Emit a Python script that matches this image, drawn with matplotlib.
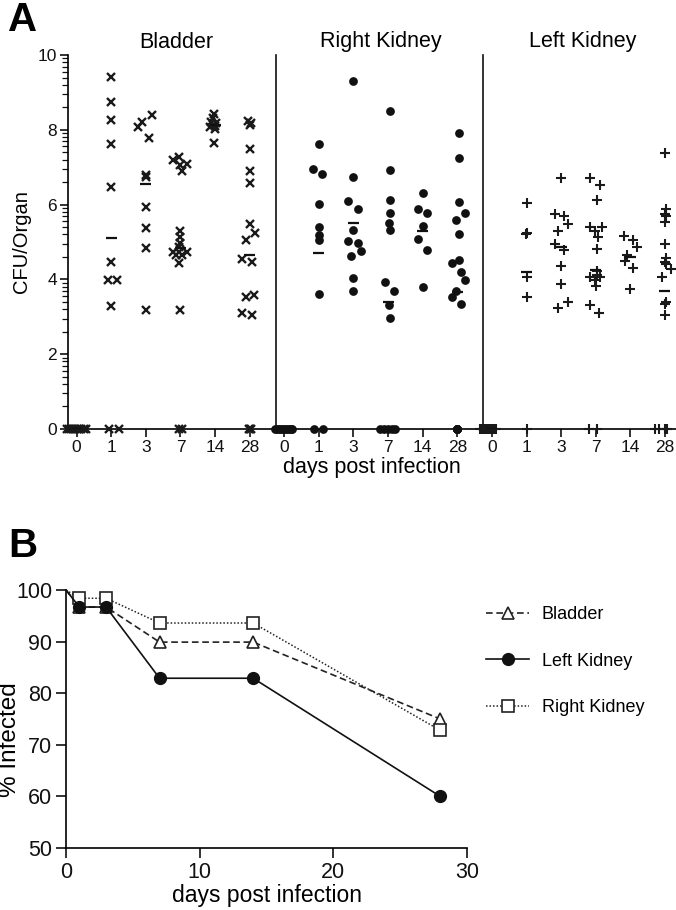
import numpy as np
import matplotlib
matplotlib.use('Agg')
import matplotlib.pyplot as plt
from matplotlib.lines import Line2D
from matplotlib import font_manager

avail = {f.name for f in font_manager.fontManager.ttflist}
base_font = 'Liberation Sans' if 'Liberation Sans' in avail else 'DejaVu Sans'
plt.rcParams['font.family'] = [base_font, 'DejaVu Sans']

# ---------------- Panel A data (log10 CFU / organ) ----------------
day_labels = ['0', '1', '3', '7', '14', '28']
organs = ['Bladder', 'Right Kidney', 'Left Kidney']

bladder_d0 = [0, 0, 0, 0, 0, 0, 0, 0, 0, 0]
bladder_d1 = [9.42, 8.75, 8.26, 7.61, 6.48, 4.46, 3.98, 3.98, 3.30, 0, 0]
bladder_d3 = [8.40, 8.22, 8.08, 7.77, 6.79, 6.73, 5.94, 5.38, 4.83, 3.18]
bladder_d7 = [7.26, 7.19, 7.09, 7.06, 6.90, 5.29, 5.14, 4.96, 4.87, 4.74, 4.74,
              4.72, 4.65, 4.65, 4.43, 3.18, 0, 0]
bladder_d14 = [8.42, 8.31, 8.22, 8.17, 8.10, 8.08, 8.01, 7.66]
bladder_d28 = [8.24, 8.19, 8.13, 7.50, 6.91, 6.57, 5.48, 5.23, 5.05, 4.54, 4.47,
               3.58, 3.54, 3.09, 3.05, 0, 0, 0]
bladder_means = [0, 5.12, 6.54, 4.83, 8.14, 4.64]

rkidney_d0 = [0, 0, 0, 0, 0, 0, 0, 0, 0, 0]
rkidney_d1 = [7.61, 6.95, 6.81, 6.02, 5.41, 5.19, 5.05, 3.60, 0, 0]
rkidney_d3 = [9.31, 6.75, 6.10, 5.87, 5.32, 5.03, 4.96, 4.76, 4.63, 4.03, 3.70]
rkidney_d7 = [8.50, 6.93, 6.12, 5.78, 5.52, 5.32, 3.93, 3.70, 3.32, 2.96, 0, 0, 0, 0, 0]
rkidney_d14 = [6.30, 5.87, 5.77, 5.43, 5.07, 4.79, 3.81]
rkidney_d28 = [7.91, 7.24, 6.06, 5.77, 5.59, 5.21, 4.52, 4.45, 4.19, 3.98, 3.70,
               3.52, 3.34, 0, 0, 0, 0, 0]
rkidney_means = [0, 4.71, 5.50, 3.39, 5.29, 3.65]

lkidney_d0 = [0, 0, 0, 0, 0, 0, 0, 0, 0, 0]
lkidney_d1 = [6.03, 5.25, 5.21, 4.06, 3.54, 0]
lkidney_d3 = [6.72, 5.75, 5.70, 5.48, 5.30, 4.95, 4.79, 4.37, 3.88, 3.39, 3.24]
lkidney_d7 = [6.70, 6.52, 6.12, 5.39, 5.39, 5.30, 5.14, 4.80, 4.23, 4.12, 4.07,
              4.07, 3.98, 3.82, 3.32, 3.09, 0, 0]
lkidney_d14 = [5.17, 5.05, 4.86, 4.65, 4.50, 4.30, 3.74]
lkidney_d28 = [7.39, 5.88, 5.75, 5.70, 5.54, 4.95, 4.56, 4.47, 4.41, 4.27, 4.06,
               3.40, 3.34, 3.05, 0, 0, 0, 0]
lkidney_means = [0, 4.19, 4.86, 4.25, 4.59, 3.70]

# horizontal scatter offsets (layout only)
bladder_jit = [
    [-0.28, -0.22, -0.16, -0.10, -0.04, 0.02, 0.08, 0.14, 0.20, 0.26],
    [0, 0, 0, 0, 0, 0, -0.09, 0.18, 0, -0.07, 0.23],
    [0.17, -0.12, -0.22, 0.08, 0, 0, 0, 0, 0, 0],
    [-0.04, -0.22, 0.20, 0.0, 0.03, 0, 0, 0, -0.03, -0.22, 0.19, -0.05, -0.14, 0.05, -0.05, 0, -0.04, 0.04],
    [-0.03, -0.06, -0.11, 0.04, -0.01, -0.16, 0.01, -0.03],
    [-0.04, 0.03, 0, 0, 0, 0, 0, 0.15, -0.12, -0.22, 0.07, 0.13, -0.12, -0.22, 0.07, -0.03, 0, 0.03],
]
rkidney_jit = [
    [-0.28, -0.22, -0.16, -0.10, -0.04, 0.02, 0.08, 0.14, 0.19, 0.23],
    [0, -0.18, 0.09, 0, 0, 0, 0, 0, -0.14, 0.12],
    [0, 0, -0.15, 0.12, 0, -0.15, 0.12, 0.21, -0.06, 0, 0],
    [0.05, 0.05, 0.05, 0.05, 0.03, 0.05, -0.10, 0.16, 0.03, 0.05, -0.24, -0.12, 0, 0.1, 0.2],
    [0.02, -0.14, 0.13, 0.02, -0.14, 0.13, 0.02],
    [0.04, 0.04, 0.04, 0.21, -0.05, 0.04, 0.05, -0.14, 0.12, 0.21, -0.05, -0.14, 0.12, 0, 0, 0, 0, 0],
]
lkidney_jit = [
    [-0.34, -0.29, -0.24, -0.19, -0.14, -0.09, -0.04, 0.01, 0.06, 0.11],
    [0, 0, -0.02, 0, 0, 0],
    [0, -0.17, 0.07, 0.19, -0.08, -0.17, 0.09, 0, 0, 0.19, -0.10],
    [-0.16, 0.12, 0.03, -0.16, 0.19, -0.03, 0.07, 0.03, 0.03, 0.05, -0.16, 0.12, -0.03, 0, -0.16, 0.10, -0.19, 0.03],
    [-0.19, 0.08, 0.18, -0.09, -0.16, 0.08, 0],
    [0, 0.02, 0, 0.02, 0, 0, 0.02, 0, 0.02, 0.17, -0.08, 0.02, 0, 0, -0.29, -0.17, 0, 0.05],
]

# ---------------- Panel B data (% infected) ----------------
pct_days = [0, 1, 3, 7, 14, 28]
bladder_pct = [100, 96.7, 96.7, 89.9, 89.9, 75.0]
lkidney_pct = [100, 96.7, 96.7, 82.9, 82.9, 60.0]
rkidney_pct = [100, 98.4, 98.4, 93.6, 93.6, 72.8]

W, H = 676, 910
fig = plt.figure(figsize=(W / 100, H / 100), dpi=100)

def fx(px):
    return px / W

def fy(py):
    return 1 - py / H

# ================= Panel A =================
axA = fig.add_axes([fx(68), fy(429), (W - 68) / W, (429 - 55) / H])
axA.set_xlim(-0.25, 17.32)
axA.set_ylim(0, 10)
for s in ['top', 'right']:
    axA.spines[s].set_visible(False)
for s in ['left', 'bottom']:
    axA.spines[s].set_linewidth(1.2)

groups = [
    (bladder_d0, bladder_d1, bladder_d3, bladder_d7, bladder_d14, bladder_d28),
    (rkidney_d0, rkidney_d1, rkidney_d3, rkidney_d7, rkidney_d14, rkidney_d28),
    (lkidney_d0, lkidney_d1, lkidney_d3, lkidney_d7, lkidney_d14, lkidney_d28),
]
jits = [bladder_jit, rkidney_jit, lkidney_jit]
means = [bladder_means, rkidney_means, lkidney_means]
styles = [
    dict(marker='x', ms=6, mew=1.7, color='#1a1a1a', mfc='#1a1a1a'),
    dict(marker='o', ms=6.3, mew=0, color='#111111', mfc='#111111'),
    dict(marker='+', ms=7, mew=1.5, color='#1a1a1a', mfc='#1a1a1a'),
]

for g in range(3):
    for i in range(6):
        vals = np.array(groups[g][i], dtype=float)
        xs = 6 * g + i + np.array(jits[g][i], dtype=float)
        axA.plot(xs, vals, linestyle='none', clip_on=False, zorder=3, **styles[g])
        m = means[g][i]
        axA.hlines(m, 6 * g + i - 0.16, 6 * g + i + 0.16, color='#111111', lw=1.6, zorder=4)

for xs in [5.75, 11.75]:
    axA.plot([xs, xs], [0, 10], color='#111111', lw=1.2, clip_on=False, zorder=2)

axA.set_xticks(range(18))
axA.set_xticklabels(day_labels * 3, fontsize=12.5)
axA.set_yticks([0, 2, 4, 6, 8, 10])
axA.set_yticklabels(['0', '2', '4', '6', '8', '10'], fontsize=12.5)
minor = [b + 2 * np.log10(k) for b in [0, 2, 4, 6, 8] for k in range(2, 10)]
axA.set_yticks(minor, minor=True)
axA.tick_params(axis='both', which='major', direction='out', length=6, width=1.2, pad=2, colors='#111111')
axA.tick_params(axis='y', which='minor', direction='out', length=4, width=0.9, colors='#111111')
axA.set_xlabel('days post infection', fontsize=15.5, labelpad=1)
axA.set_ylabel('CFU/Organ', fontsize=14.5, labelpad=5)

for name, cx in zip(organs, [176, 381, 583]):
    fig.text(fx(cx), fy(42), name, ha='center', va='center', fontsize=15.5)

fig.text(fx(8), fy(20), 'A', ha='left', va='center', fontsize=29, fontweight='bold')

# ================= Panel B =================
B_top, B_bot = 590, 848
axB = fig.add_axes([fx(66), fy(B_bot), (467 - 66) / W, (B_bot - B_top) / H])
axB.set_xlim(0, 30)
axB.set_ylim(50, 100)
for s in ['top', 'right']:
    axB.spines[s].set_visible(False)
for s in ['left', 'bottom']:
    axB.spines[s].set_linewidth(1.2)

mk = [1, 2, 3, 4, 5]
bl_style = dict(color='#222222', lw=1.2, linestyle=(0, (4, 2.2)), marker='^', ms=8.5,
                mfc='white', mec='#222222', mew=1.2)
rk_style = dict(color='#222222', lw=1.1, linestyle=(0, (1, 1.3)), marker='s', ms=8.5,
                mfc='white', mec='#222222', mew=1.2)
lk_style = dict(color='#111111', lw=1.2, linestyle='-', marker='o', ms=8.5,
                mfc='#111111', mec='#111111')
axB.plot(pct_days, bladder_pct, markevery=mk, clip_on=False, zorder=3, **bl_style)
axB.plot(pct_days, rkidney_pct, markevery=mk, clip_on=False, zorder=3, **rk_style)
axB.plot(pct_days, lkidney_pct, markevery=mk, clip_on=False, zorder=4, **lk_style)

axB.set_xticks([0, 10, 20, 30])
axB.set_yticks([50, 60, 70, 80, 90, 100])
axB.tick_params(axis='both', which='major', direction='out', length=7, width=1.2, pad=3,
                labelsize=15.5, colors='#111111')
axB.set_xlabel('days post infection', fontsize=16.5, labelpad=1)
fig.text(fx(10), fy(740), '% Infected', rotation=90, ha='center', va='center', fontsize=17.5)

h = [Line2D([], [], **bl_style), Line2D([], [], **lk_style), Line2D([], [], **rk_style)]
axB.legend(h, ['Bladder', 'Left Kidney', 'Right Kidney'], loc='upper left',
           bbox_to_anchor=(1.047, 0.938), frameon=False,
           handlelength=2.4, handletextpad=0.7, labelspacing=1.64, borderpad=0,
           borderaxespad=0, numpoints=1, fontsize=13)

fig.text(fx(8), fy(546), 'B', ha='left', va='center', fontsize=29, fontweight='bold')

fig.savefig('out.png', dpi=100)
